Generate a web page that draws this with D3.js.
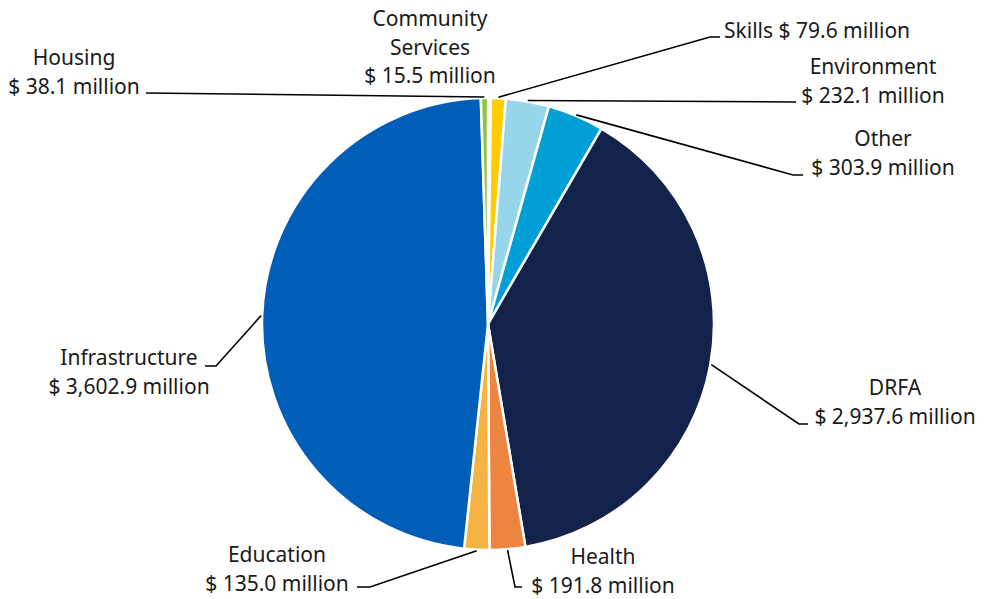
<!DOCTYPE html>
<html>
<head>
<meta charset="utf-8">
<script src="https://cdn.jsdelivr.net/npm/d3@7"></script>
<style>
  html, body { margin: 0; padding: 0; background: #fff; }
  svg text { font-family: "Noto Sans", "Open Sans", sans-serif; font-size: 21px; fill: #1a1a1a; }
</style>
</head>
<body>
<svg id="chart" width="984" height="599"></svg>
<script>
// Funding by program area, $ million (clockwise from 12 o'clock)
const categories = ["Community Services", "Skills", "Environment", "Other", "DRFA",
                    "Health", "Education", "Infrastructure", "Housing"];
const values = [15.5, 79.6, 232.1, 303.9, 2937.6, 191.8, 135.0, 3602.9, 38.1];
const colors = ["#f4f4f4", "#ffcc00", "#97d6ea", "#009fd6", "#13224a",
                "#ed8540", "#f4b342", "#005eb8", "#8dc63f"];

// Label text lines for each slice
const labelLines = [
  ["Community", "Services", "$ 15.5 million"],
  ["Skills $ 79.6 million"],
  ["Environment", "$ 232.1 million"],
  ["Other", "$ 303.9 million"],
  ["DRFA", "$ 2,937.6 million"],
  ["Health", "$ 191.8 million"],
  ["Education", "$ 135.0 million"],
  ["Infrastructure", "$ 3,602.9 million"],
  ["Housing", "$ 38.1 million"]
];

const svg = d3.select("#chart");
const cx = 488, cy = 324, R = 226;

const pie = d3.pie().sort(null).value(d => d.value);
const data = categories.map((c, i) => ({ name: c, value: values[i], color: colors[i], lines: labelLines[i] }));
const arcs = pie(data);
const arc = d3.arc().innerRadius(0).outerRadius(R);

const g = svg.append("g").attr("transform", `translate(${cx},${cy})`);
g.selectAll("path.slice")
  .data(arcs)
  .join("path")
  .attr("class", "slice")
  .attr("d", arc)
  .attr("fill", d => d.data.color)
  .attr("stroke", "#fff")
  .attr("stroke-width", 2.5)
  .attr("stroke-linejoin", "round");

// Label layout: text anchor (x, first-line baseline, alignment) and leader elbow points
const layout = {
  "Community Services": { x: 430, y: 26, anchor: "middle", elbow: null },
  "Skills":        { x: 724, y: 38,  anchor: "start",  elbow: [[710, 37], [720, 37]] },
  "Environment":   { x: 873, y: 74,  anchor: "middle", elbow: [[796, 102]] },
  "Other":         { x: 883, y: 146, anchor: "middle", elbow: [[793, 175], [803, 175]] },
  "DRFA":          { x: 895, y: 395, anchor: "middle", elbow: [[799, 424], [808, 424]] },
  "Health":        { x: 603, y: 564, anchor: "middle", elbow: [[515, 587], [522, 587]] },
  "Education":     { x: 277, y: 562, anchor: "middle", elbow: [[370, 587], [357, 587]] },
  "Infrastructure":{ x: 129, y: 365, anchor: "middle", elbow: [[216, 366], [205, 366]] },
  "Housing":       { x: 74,  y: 65,  anchor: "middle", elbow: [[146, 93]] }
};

const lineH = 28.5;
const pointArc = d3.arc().innerRadius(R + 1).outerRadius(R + 1);

arcs.forEach(a => {
  const L = layout[a.data.name];
  if (L.elbow) {
    const p = pointArc.centroid(a);
    const pts = [[p[0] + cx, p[1] + cy], ...L.elbow];
    svg.append("path")
      .attr("d", d3.line()(pts))
      .attr("fill", "none")
      .attr("stroke", "#000")
      .attr("stroke-width", 1.6);
  }
  const t = svg.append("text")
    .attr("text-anchor", L.anchor)
    .attr("x", L.x)
    .attr("y", L.y);
  a.data.lines.forEach((ln, i) => {
    t.append("tspan").attr("x", L.x).attr("dy", i === 0 ? 0 : lineH).text(ln);
  });
});
</script>
</body>
</html>
